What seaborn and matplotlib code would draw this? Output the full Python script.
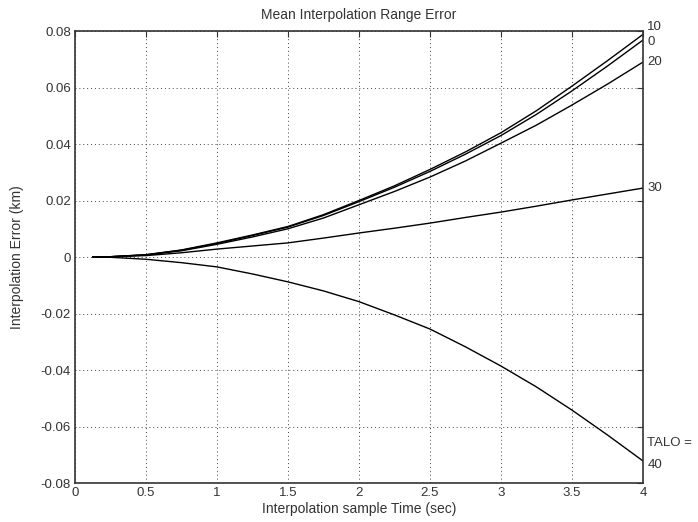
import numpy as np
import pandas as pd
import matplotlib
matplotlib.use('Agg')
import matplotlib.pyplot as plt
import seaborn as sns

# sample times (sec)
t = [0.125, 0.25, 0.5, 0.75, 1.0, 1.25, 1.5, 1.75, 2.0, 2.25, 2.5, 2.75, 3.0, 3.25, 3.5, 3.75, 4.0]

# mean range error (km) per TALO value
err_0 = [0.0000, 0.0001, 0.0008, 0.0024, 0.0048, 0.0076, 0.0106, 0.0147, 0.0196, 0.0247, 0.0303, 0.0364, 0.0430, 0.0505, 0.0588, 0.0676, 0.0768]
err_10 = [0.0000, 0.0001, 0.0008, 0.0025, 0.0050, 0.0078, 0.0108, 0.0150, 0.0200, 0.0252, 0.0310, 0.0372, 0.0440, 0.0518, 0.0605, 0.0695, 0.0788]
err_20 = [0.0000, 0.0001, 0.0007, 0.0022, 0.0045, 0.0071, 0.0100, 0.0138, 0.0185, 0.0232, 0.0283, 0.0340, 0.0403, 0.0467, 0.0538, 0.0612, 0.0690]
err_30 = [0.0000, 0.0001, 0.0005, 0.0015, 0.0028, 0.0039, 0.0050, 0.0067, 0.0085, 0.0102, 0.0120, 0.0140, 0.0159, 0.0180, 0.0202, 0.0223, 0.0244]
err_40 = [0.0000, -0.0001, -0.0008, -0.0020, -0.0035, -0.0060, -0.0088, -0.0120, -0.0158, -0.0205, -0.0255, -0.0318, -0.0386, -0.0460, -0.0542, -0.0630, -0.0722]

talo = ['0', '10', '20', '30', '40']
curves = [err_0, err_10, err_20, err_30, err_40]

# end labels on the right side
end_labels = ['10', '0', '20', '30', 'TALO =', '40']
end_label_y = [0.0815, 0.0760, 0.0690, 0.0245, -0.0660, -0.0735]

xticks = [0, 0.5, 1, 1.5, 2, 2.5, 3, 3.5, 4]
xtick_labels = ['0', '0.5', '1', '1.5', '2', '2.5', '3', '3.5', '4']
yticks = [-0.08, -0.06, -0.04, -0.02, 0, 0.02, 0.04, 0.06, 0.08]
ytick_labels = ['-0.08', '-0.06', '-0.04', '-0.02', '0', '0.02', '0.04', '0.06', '0.08']

df = pd.DataFrame({
    'time': t * len(talo),
    'error': sum(curves, []),
    'talo': [k for k in talo for _ in t],
})

sns.set_style('white')
plt.rcParams['font.family'] = ['Liberation Sans', 'DejaVu Sans']

fig = plt.figure(figsize=(6.98, 5.22), dpi=100)
ax = fig.add_axes([0.1074, 0.0747, 0.8138, 0.8659])

sns.lineplot(data=df, x='time', y='error', hue='talo', palette=['black'] * len(talo),
             estimator=None, linewidth=1.0, legend=False, ax=ax)

ax.set_xlim(0, 4)
ax.set_ylim(-0.08, 0.08)
ax.set_xticks(xticks)
ax.set_xticklabels(xtick_labels)
ax.set_yticks(yticks)
ax.set_yticklabels(ytick_labels)
ax.grid(True, linestyle=(0, (1, 3)), color='#444444', linewidth=0.7)
ax.tick_params(direction='in', top=True, right=True, length=4, width=0.8,
               labelsize=9.5, colors='#333333', pad=3)
for s in ax.spines.values():
    s.set_color('#333333')
    s.set_linewidth(1.2)

ax.set_title('Mean Interpolation Range Error', fontsize=10, color='#333333', pad=9)
ax.set_xlabel('Interpolation sample Time (sec)', fontsize=10, color='#333333', labelpad=2)
ax.set_ylabel('Interpolation Error (km)', fontsize=10, color='#333333', labelpad=12)

for lab, yv in zip(end_labels, end_label_y):
    ax.text(4.03, yv, lab, fontsize=9.5, color='#333333', va='center', ha='left', clip_on=False)

fig.savefig('out.png', dpi=100)
